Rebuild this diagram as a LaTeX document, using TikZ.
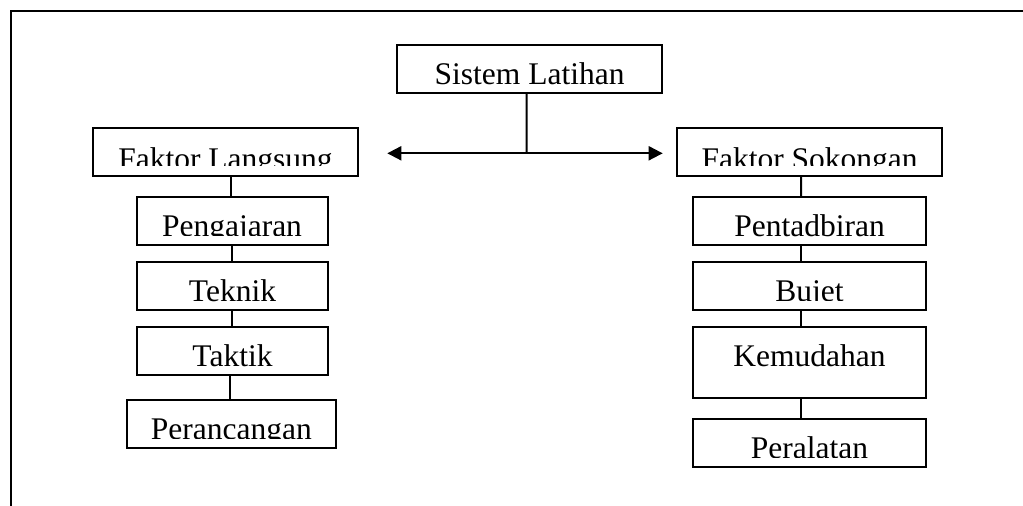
\documentclass[tikz,border=0pt]{standalone}
\usepackage{fontspec}
\setmainfont{Liberation Serif}
\usetikzlibrary{arrows.meta}

\tikzset{
	kotak/.style={draw, line width=2pt, inner sep=0pt, text height=39pt, text depth=9pt, font=\fontsize{31.5}{36}\selectfont},
	faktor/.style={kotak, minimum width=265.3pt, text height=41pt, text depth=7pt},
	kiri/.style={kotak, minimum width=191pt},
	kanan/.style={kotak, minimum width=233pt},
	garis/.style={line width=2pt},
	hujung/.tip={Triangle[length=14pt,width=14pt]}
}

\begin{document}
\begin{tikzpicture}[x=1pt,y=-1pt]
		\useasboundingbox (0,0) rectangle (1023,506);
		
		% bingkai
		\draw[garis] (11,506) -- (11,11) -- (1023,11);
		
		\node[faktor, text height=39pt, text depth=9pt] (sistem) at (529.6,69.2) {Sistem Latihan};
		\node[faktor] (langsung) at (225.5,152) {Faktor Langsung};
		\node[faktor] (sokongan) at (809.6,152) {Faktor Sokongan};
		
		\node[kiri] (pengajaran) at (232,221) {Pengajaran};
		\node[kiri] (teknik) at (232.5,286) {Teknik};
		\node[kiri] (taktik) at (232.5,351) {Taktik};
		\node[kotak, minimum width=208.7pt] (perancangan) at (231.3,424.2) {Perancangan};
		
		\node[kanan] (pentadbiran) at (809.5,221) {Pentadbiran};
		\node[kanan] (bujet) at (809.5,286) {Bujet};
		\node[kanan, text depth=32.3pt] (kemudahan) at (809.5,362.7) {Kemudahan};
		\node[kanan] (peralatan) at (809.5,443.3) {Peralatan};
		
		% huruf yang terpotong di bawah
		\foreach \n in {pengajaran,perancangan,bujet,peralatan}
			\fill[white] ([xshift=3pt]\n.base west) rectangle ([xshift=-3pt,yshift=2pt]\n.south east);
		\foreach \n in {langsung,sokongan}
			\fill[white] ([xshift=3pt,yshift=3pt]\n.base west) rectangle ([xshift=-3pt,yshift=2pt]\n.south east);
		
		\coordinate (hub) at (526.7,153.3);
		\coordinate (kiri) at (387.3,153.3);
		\coordinate (kanan) at (662.7,153.3);
		\draw[garis] ([xshift=-3pt]sistem.south) -- (hub);
		\draw[garis, hujung-hujung] (kiri) -- (kanan);
		
		\foreach \a/\b in {langsung/pengajaran, pengajaran/teknik, teknik/taktik, taktik/perancangan}
			\draw[garis] ([xshift=-1pt]\b.north) -- ([xshift=-1pt]\b.north |- \a.south);
		\foreach \a/\b in {sokongan/pentadbiran, pentadbiran/bujet, bujet/kemudahan, kemudahan/peralatan}
			\draw[garis] ([xshift=-8.5pt]\a.south) -- ([xshift=-8.5pt]\b.north);
	\end{tikzpicture}
\end{document}
